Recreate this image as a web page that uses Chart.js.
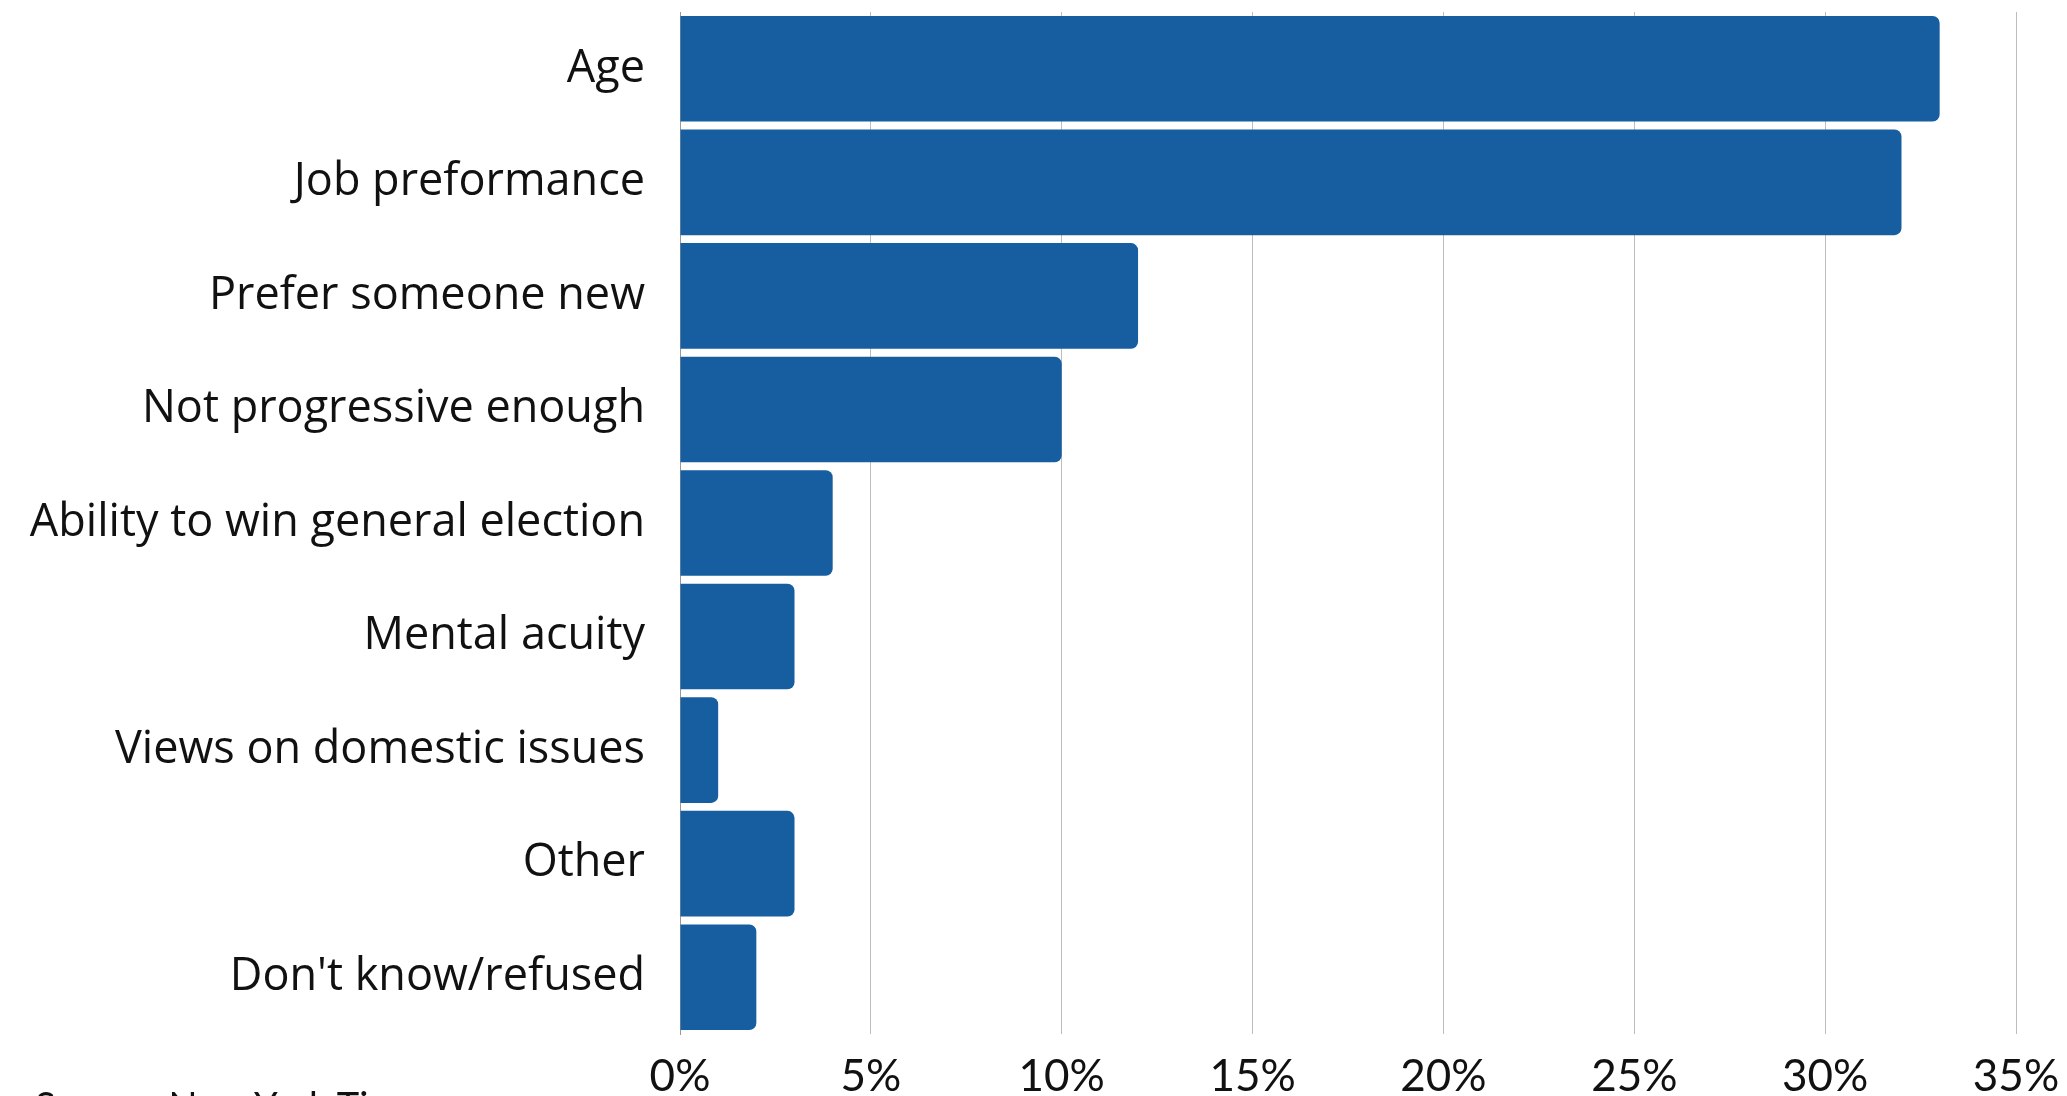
<!DOCTYPE html>
<html>
<head>
<meta charset="utf-8">
<script src="https://cdn.jsdelivr.net/npm/chart.js@4/dist/chart.umd.min.js"></script>
<style>
  html, body { margin: 0; padding: 0; background: #fff; overflow: hidden; }
  #wrap { position: relative; width: 2067px; height: 1096px; }
  #source { position: absolute; left: 35px; top: 1082px; font-family: Lato, sans-serif; font-size: 38px; color: #111; white-space: nowrap; }
</style>
</head>
<body>
<div id="wrap">
  <canvas id="c" width="2067" height="1096"></canvas>
  <div id="source">Source: New York Times</div>
</div>
<script>
const categories = [
  "Age",
  "Job preformance",
  "Prefer someone new",
  "Not progressive enough",
  "Ability to win general election",
  "Mental acuity",
  "Views on domestic issues",
  "Other",
  "Don't know/refused"
];
const values = [33, 32, 12, 10, 4, 3, 1, 3, 2];
const xTickMin = 0;
const xTickMax = 35;
const xTickStep = 5;

const ctx = document.getElementById('c').getContext('2d');
new Chart(ctx, {
  type: 'bar',
  data: {
    labels: categories,
    datasets: [{
      data: values,
      backgroundColor: '#165EA0',
      borderRadius: 7,
      borderSkipped: 'start',
      barPercentage: 0.93,
      categoryPercentage: 1.0
    }]
  },
  options: {
    indexAxis: 'y',
    responsive: false,
    animation: false,
    devicePixelRatio: 1,
    layout: { padding: { top: 12, right: 51, left: 0, bottom: 0 } },
    plugins: { legend: { display: false }, tooltip: { enabled: false } },
    scales: {
      x: {
        min: xTickMin,
        max: xTickMax,
        ticks: {
          stepSize: xTickStep,
          callback: v => v + '%',
          color: '#111',
          font: { family: 'Lato', size: 44 },
          padding: 16,
          maxRotation: 0
        },
        grid: { color: '#bdbdbd', lineWidth: 1, drawTicks: false },
        border: { display: false },
        afterFit: s => { s.height = 62; s.paddingLeft = 0; s.paddingRight = 0; }
      },
      y: {
        ticks: {
          color: '#111',
          font: { family: 'Open Sans', size: 45, weight: 400 },
          padding: 35
        },
        grid: { display: false, drawTicks: false },
        border: { display: true, color: '#999999', width: 1 },
        afterFit: s => { s.width = 680; s.paddingTop = 0; s.paddingBottom = 0; }
      }
    }
  }
});
</script>
</body>
</html>
